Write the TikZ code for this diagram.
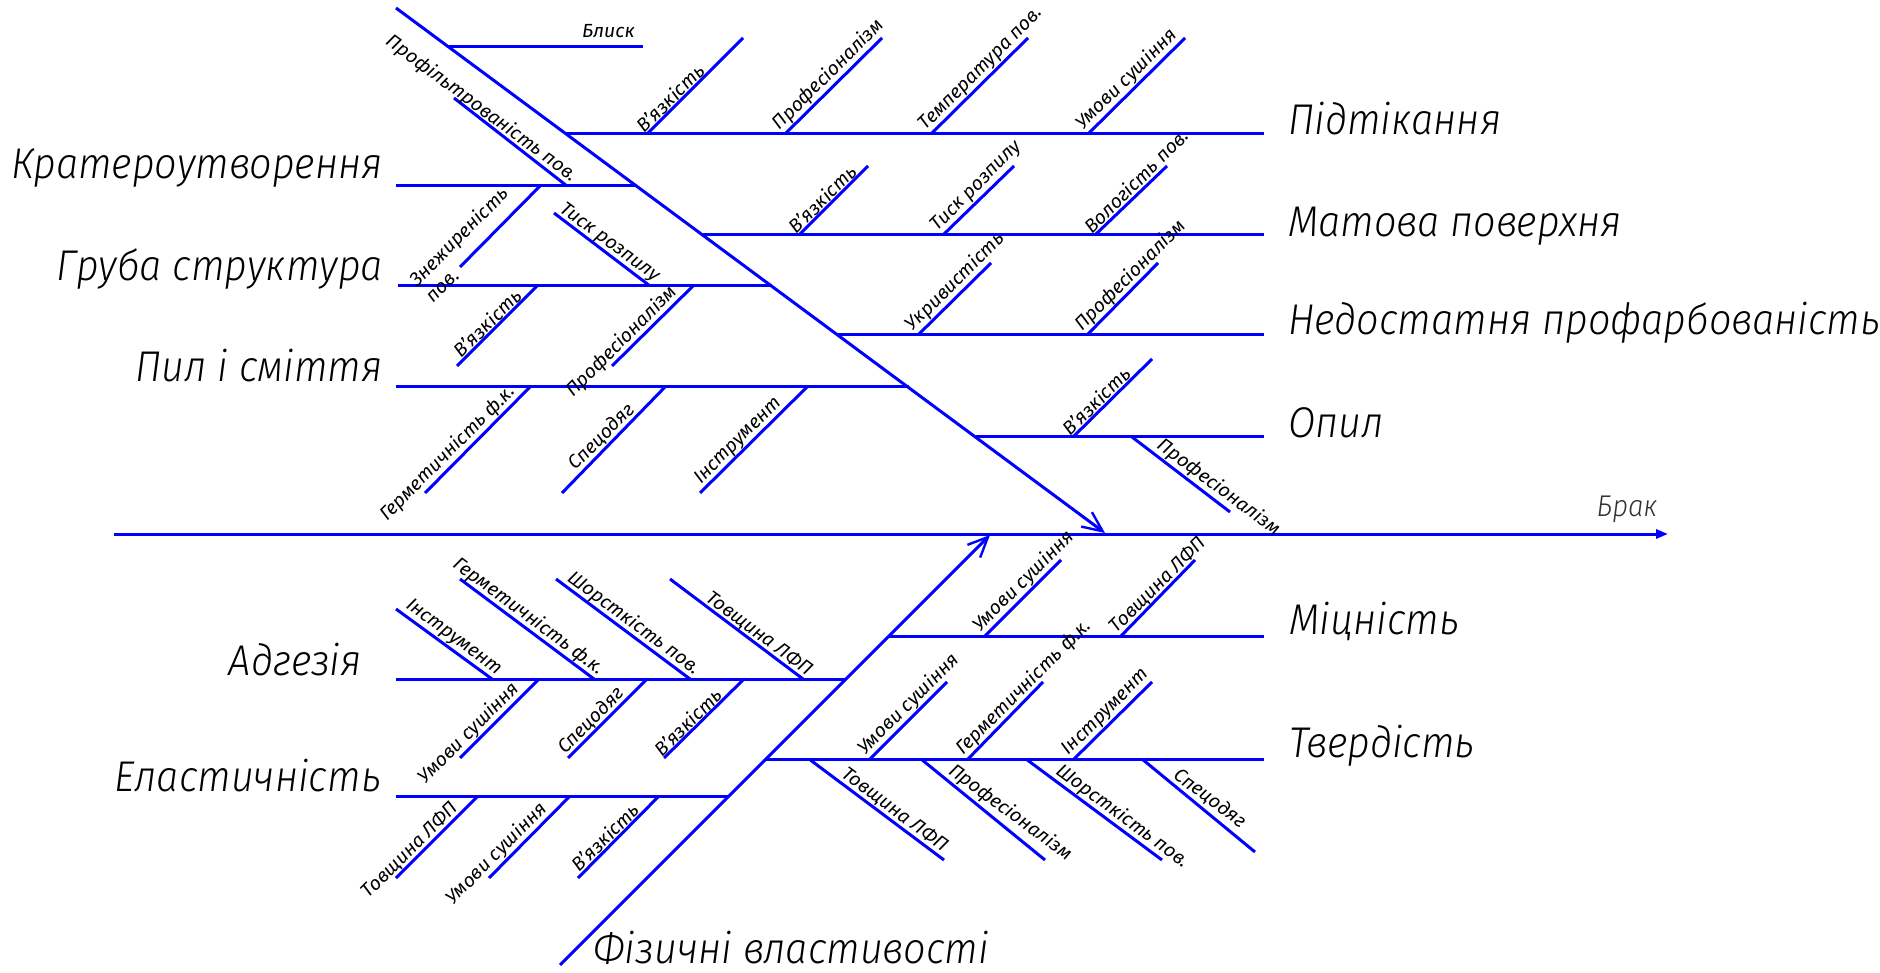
\documentclass[tikz,border=0pt]{standalone}
\usepackage{fontspec}
\usetikzlibrary{calc,arrows.meta}
\IfFontExistsTF{Fira Sans Light Italic}{%
  \newfontfamily\gostbig{Fira Sans Light Italic}[FakeStretch=0.92]%
}{%
  \newfontfamily\gostbig{Fira Sans}[FakeSlant=0.2,FakeStretch=0.92]%
}
\IfFontExistsTF{Fira Sans Italic}{%
  \newfontfamily\gostsm{Fira Sans Italic}[FakeStretch=1.02]%
}{%
  \newfontfamily\gostsm{Fira Sans}[FakeSlant=0.2,FakeStretch=1.02]%
}
\definecolor{bonec}{RGB}{0,0,255}
\tikzset{
  bone/.style={draw=bonec, line width=3pt},
  biglbl/.style={font={\gostbig\fontsize{43}{50}\selectfont}, inner sep=0pt, text=black},
  midlbl/.style={font={\gostbig\fontsize{30}{36}\selectfont}, inner sep=0pt, text=black!80},
  smlbl/.style={font={\gostsm\fontsize{19}{23}\selectfont}, inner sep=1.5pt, text=black},
  lblA/.style={smlbl, rotate=45, anchor=south west},
  lblB/.style={smlbl, rotate=45, anchor=south east},
  lblC/.style={smlbl, rotate=-36.5, anchor=south east},
  lblD/.style={smlbl, rotate=-36.5, anchor=south west},
  barb/.style={-{Straight Barb[length=20pt,width=18pt,line width=2.4pt]}},
}
% A: 45deg, above branch, text starts at base
\newcommand{\boneA}[6]{\coordinate (#1b) at (#2,#3); \coordinate (#1f) at (#4,#5);
  \draw[bone] (#1b) -- (#1f); \node[lblA] (#1t) at ($(#1b)!-3pt!(#1f)$) {#6};}
% B: 45deg, below branch, text ends near base
\newcommand{\boneB}[7]{\coordinate (#1b) at (#2,#3); \coordinate (#1f) at (#4,#5);
  \draw[bone] (#1b) -- (#1f); \node[lblB] (#1t) at ($(#1b)!#7pt!(#1f)$) {#6};}
% C: falling, base at lower right, text ends near base
\newcommand{\boneC}[6]{\coordinate (#1b) at (#2,#3); \coordinate (#1f) at (#4,#5);
  \draw[bone] (#1b) -- (#1f); \node[lblC] (#1t) at ($(#1b)!-3pt!(#1f)$) {#6};}
% D: falling, base at upper left, text starts after base
\newcommand{\boneD}[7]{\coordinate (#1b) at (#2,#3); \coordinate (#1f) at (#4,#5);
  \draw[bone] (#1b) -- (#1f); \node[lblD] (#1t) at ($(#1b)!#7pt!(#1f)$) {#6};}
\begin{document}
\begin{tikzpicture}[x=1pt,y=-1pt]
\path[fill=white,use as bounding box] (0,0) rectangle (1880,973);

% spine and main diagonals
\coordinate (sp0) at (114,534); \coordinate (sp1) at (1668,534);
\draw[bone,-{Triangle[length=12pt,width=9pt]}] (sp0) -- (sp1);
\node[midlbl, anchor=base east] (brak) at (1658,516) {Брак};
\coordinate (dg0) at (396,8); \coordinate (dgT) at (1105,533);
\draw[bone,barb] (dg0) -- (dgT);
\coordinate (lg0) at (560,965); \coordinate (lgT) at (990,535);
\draw[bone,barb] (lg0) -- (lgT);
\node[biglbl, anchor=base west] (fiz) at (593,963) {Фізичні властивості};

% right upper branches
\coordinate (r1a) at (566,134); \coordinate (r1b) at (1264,134); \draw[bone] (r1a) -- (r1b);
\node[biglbl, anchor=base west] (r1t) at (1288,135) {Підтікання};
\coordinate (r2a) at (703,235); \coordinate (r2b) at (1264,235); \draw[bone] (r2a) -- (r2b);
\node[biglbl, anchor=base west] (r2t) at (1288,237) {Матова поверхня};
\coordinate (r3a) at (838,335); \coordinate (r3b) at (1264,335); \draw[bone] (r3a) -- (r3b);
\node[biglbl, anchor=base west] (r3t) at (1288,335) {Недостатня профарбованість};
\coordinate (r4a) at (976,437); \coordinate (r4b) at (1264,437); \draw[bone] (r4a) -- (r4b);
\node[biglbl, anchor=base west] (r4t) at (1288,438) {Опил};

% left upper branches
\coordinate (blA) at (449,47); \coordinate (blB) at (643,47); \draw[bone] (blA) -- (blB);
\node[smlbl, anchor=base west, inner sep=0pt] (blt) at (582,38) {Блиск};
\coordinate (l1a) at (396,186); \coordinate (l1b) at (637,186); \draw[bone] (l1a) -- (l1b);
\node[biglbl, anchor=base east] (l1t) at (383,179) {Кратероутворення};
\coordinate (l2a) at (398,286); \coordinate (l2b) at (772,286); \draw[bone] (l2a) -- (l2b);
\node[biglbl, anchor=base east] (l2t) at (383,281) {Груба структура};
\coordinate (l3a) at (396,387); \coordinate (l3b) at (909,387); \draw[bone] (l3a) -- (l3b);
\node[biglbl, anchor=base east] (l3t) at (383,382) {Пил і сміття};

% lower branches
\coordinate (m1a) at (889,636); \coordinate (m1b) at (1264,636); \draw[bone] (m1a) -- (m1b);
\node[biglbl, anchor=base west] (m1t) at (1289,634) {Міцність};
\coordinate (m2a) at (766,759); \coordinate (m2b) at (1264,759); \draw[bone] (m2a) -- (m2b);
\node[biglbl, anchor=base west] (m2t) at (1289,757) {Твердість};
\coordinate (a1a) at (396,679); \coordinate (a1b) at (846,679); \draw[bone] (a1a) -- (a1b);
\node[biglbl, anchor=base east] (a1t) at (362,675) {Адгезія};
\coordinate (e1a) at (396,796); \coordinate (e1b) at (729,796); \draw[bone] (e1a) -- (e1b);
\node[biglbl, anchor=base east] (e1t) at (381,791) {Еластичність};

% sub-bones, upper right
\boneA{pa}{647}{134}{743}{38}{В’язкість}
\boneA{pb}{785}{134}{882}{38}{Професіоналізм}
\boneA{pc}{931}{134}{1028}{38}{Температура пов.}
\boneA{pd}{1088}{134}{1185}{38}{Умови сушіння}
\boneA{ma}{799}{235}{868}{166}{В’язкість}
\boneA{mb}{943}{235}{1014}{166}{Тиск розпилу}
\boneA{mc}{1095}{235}{1167}{166}{Вологість пов.}
\boneA{na}{918}{335}{991}{263}{Укривистість}
\boneA{nb}{1087}{335}{1158}{263}{Професіоналізм}
\boneA{oa}{1073}{437}{1152}{359}{В’язкість}
\boneD{ob}{1132}{437}{1230}{512}{Професіоналізм}{24}

% sub-bones, upper left
\boneC{ka}{567}{186}{454}{98}{Профільтрованість пов.}
\coordinate (kbb) at (540,186); \coordinate (kbf) at (460,267); \draw[bone] (kbb) -- (kbf);
\node[smlbl, rotate=45, anchor=south west, align=left] (kbt) at (434,306) {Знежиреність\\пов.};
\boneC{gc}{650}{286}{554}{213}{Тиск розпилу}
\boneB{ga}{537}{286}{457}{366}{В’язкість}{16}
\boneB{gb}{693}{286}{612}{366}{Професіоналізм}{14}
\boneB{la}{530}{387}{425}{493}{Герметичність ф.к.}{12}
\boneB{lb}{665}{387}{562}{493}{Спецодяг}{36}
\boneB{lc}{807}{387}{700}{493}{Інструмент}{28}

% sub-bones, lower left
\boneC{ad}{492}{679}{396}{609}{Інструмент}
\boneC{ae}{594}{679}{460}{579}{Герметичність ф.к.}
\boneC{af}{690}{679}{556}{579}{Шорсткість пов.}
\boneC{ag}{803}{679}{670}{579}{Товщина ЛФП}
\boneB{aa}{539}{679}{460}{758}{Умови сушіння}{19}
\boneB{ab}{647}{679}{568}{758}{Спецодяг}{25}
\boneB{ac}{744}{679}{664}{758}{В’язкість}{25}
\boneB{ea}{478}{796}{396}{878}{Товщина ЛФП}{21}
\boneB{eb}{570}{796}{489}{878}{Умови сушіння}{24}
\boneB{ec}{659}{796}{578}{878}{В’язкість}{22}

% sub-bones, lower right
\boneA{mia}{985}{636}{1061}{560}{Умови сушіння}
\boneA{mib}{1121}{636}{1195}{560}{Товщина ЛФП}
\boneA{ta}{870}{759}{947}{682}{Умови сушіння}
\boneA{tb}{968}{759}{1043}{682}{Герметичність ф.к.}
\boneA{tc}{1074}{759}{1152}{682}{Інструмент}
\boneD{td}{809}{759}{944}{860}{Товщина ЛФП}{34}
\boneD{te}{921}{759}{1045}{860}{Професіоналізм}{28}
\boneD{tf}{1026}{759}{1162}{860}{Шорсткість пов.}{30}
\boneD{tg}{1142}{759}{1255}{852}{Спецодяг}{34}
\end{tikzpicture}
\end{document}
